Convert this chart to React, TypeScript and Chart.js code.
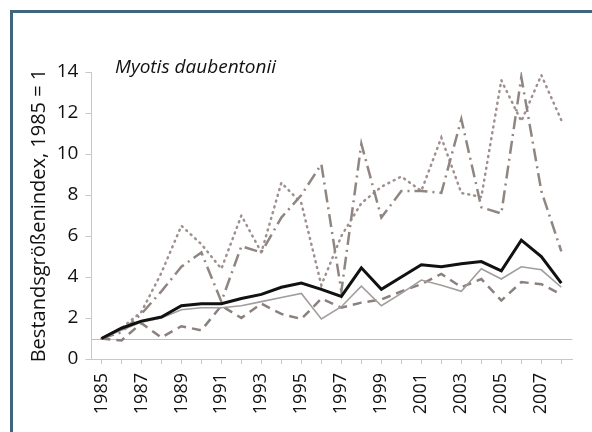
import React, { useEffect, useRef } from "react";
import { Chart, registerables } from "chart.js";

Chart.register(...registerables);

const years = [1985, 1986, 1987, 1988, 1989, 1990, 1991, 1992, 1993, 1994, 1995, 1996, 1997, 1998, 1999, 2000, 2001, 2002, 2003, 2004, 2005, 2006, 2007, 2008];
const seriesBlack = [1, 1.5, 1.85, 2.05, 2.6, 2.7, 2.7, 2.95, 3.15, 3.5, 3.7, 3.4, 3.05, 4.45, 3.4, 4.0, 4.6, 4.5, 4.65, 4.75, 4.3, 5.8, 5.0, 3.7];
const seriesGray = [1, 1.4, 1.8, 2.0, 2.4, 2.5, 2.5, 2.6, 2.8, 3.0, 3.2, 1.95, 2.55, 3.55, 2.6, 3.2, 3.85, 3.6, 3.3, 4.4, 3.9, 4.5, 4.35, 3.5];
const seriesDashed = [1, 0.9, 1.75, 1.05, 1.6, 1.4, 2.6, 2.0, 2.7, 2.2, 1.95, 2.95, 2.5, 2.75, 2.9, 3.3, 3.65, 4.15, 3.5, 3.9, 2.85, 3.75, 3.65, 3.15];
const seriesDashDot = [1, 1.3, 2.2, 3.3, 4.5, 5.2, 2.8, 5.5, 5.2, 6.9, 8.0, 9.5, 3.3, 10.5, 6.9, 8.2, 8.2, 8.1, 11.7, 7.4, 7.1, 13.75, 8.2, 5.25];
const seriesDotted = [1, 1.5, 2.3, 4.2, 6.5, 5.6, 4.4, 7.0, 5.2, 8.6, 7.6, 3.6, 6.0, 7.6, 8.4, 8.9, 8.2, 10.8, 8.1, 7.9, 13.6, 11.6, 13.85, 11.65];
const yTicks = [0, 2, 4, 6, 8, 10, 12, 14];
const referenceValue = 1;

const titleText = "Myotis daubentonii";
const yTitle = "Bestandsgrößenindex, 1985 = 1";

const FONT = '"Open Sans", "Noto Sans", sans-serif';

export default function App() {
  const ref = useRef<HTMLCanvasElement>(null);

  useEffect(() => {
    const mk = (vals: number[]) => vals.map((v, i) => ({ x: years[i], y: v }));
    const refLine = {
      id: "refLine",
      beforeDatasetsDraw(chart: any) {
        const { ctx, chartArea, scales } = chart;
        const y = Math.round(scales.y.getPixelForValue(referenceValue)) + 0.5;
        ctx.save();
        ctx.strokeStyle = "#cdb9b3";
        ctx.lineWidth = 1;
        ctx.beginPath();
        ctx.moveTo(chartArea.left, y);
        ctx.lineTo(chartArea.right, y);
        ctx.stroke();
        ctx.restore();
      },
    };
    const common = { pointRadius: 0, tension: 0, fill: false };
    const chart = new Chart(ref.current as HTMLCanvasElement, {
      type: "line",
      data: {
        datasets: [
          { ...common, data: mk(seriesBlack), borderColor: "#111111", borderWidth: 3 },
          { ...common, data: mk(seriesGray), borderColor: "#a39d9d", borderWidth: 1.6 },
          { ...common, data: mk(seriesDashed), borderColor: "#8a807d", borderWidth: 2.5, borderDash: [9, 6] },
          { ...common, data: mk(seriesDashDot), borderColor: "#8f8682", borderWidth: 2.5, borderDash: [13, 5, 2, 5] },
          { ...common, data: mk(seriesDotted), borderColor: "#a08f8f", borderWidth: 2.5, borderDash: [1, 5], borderCapStyle: "round" },
        ] as any,
      },
      options: {
        animation: false,
        responsive: false,
        events: [],
        layout: { padding: { left: 19, right: 4, top: 72, bottom: 0 } },
        plugins: { legend: { display: false }, tooltip: { enabled: false } },
        scales: {
          x: {
            type: "linear",
            min: 1984.5,
            max: 2008.55,
            border: { color: "#c8c8c8", width: 1 },
            grid: { drawOnChartArea: false, color: "#c8c8c8", tickLength: 5 },
            ticks: {
              stepSize: 1,
              autoSkip: false,
              includeBounds: false,
              maxRotation: 90,
              minRotation: 90,
              padding: 9,
              color: "#111",
              font: { family: FONT, size: 18 },
              callback: (v: any) => (Number(v) % 2 === 1 ? String(v) : ""),
            },
            afterFit: (s: any) => {
              s.height = 73;
            },
          },
          y: {
            min: 0,
            max: 14,
            border: { color: "#c8c8c8", width: 1 },
            grid: { drawOnChartArea: false, color: "#c8c8c8", tickLength: 6 },
            afterBuildTicks: (s: any) => {
              s.ticks = yTicks.map((v) => ({ value: v }));
            },
            ticks: {
              padding: 7,
              color: "#111",
              font: { family: FONT, size: 19 },
              callback: (v: any) => String(v),
            },
            title: {
              display: true,
              text: yTitle,
              color: "#111",
              font: { family: FONT, size: 20 },
              padding: { top: 8, bottom: 0 },
            },
            afterFit: (s: any) => {
              s.width = 72.4;
            },
          },
        },
      } as any,
      plugins: [refLine],
    });
    return () => chart.destroy();
  }, []);

  return (
    <div style={{ position: "fixed", left: 0, top: 0, width: 592, height: 432, background: "#ffffff", overflow: "hidden" }}>
      <div
        style={{
          position: "absolute",
          left: 10,
          top: 10,
          width: 620,
          height: 460,
          borderLeft: "3px solid #40667c",
          borderTop: "3px solid #40667c",
        }}
      />
      <canvas ref={ref} width={592} height={432} style={{ position: "absolute", left: 0, top: 0 }} />
      <div
        style={{
          position: "absolute",
          left: 115,
          top: 53,
          font: `italic 19px ${FONT}`,
          color: "#111",
          whiteSpace: "nowrap",
        }}
      >
        {titleText}
      </div>
    </div>
  );
}
